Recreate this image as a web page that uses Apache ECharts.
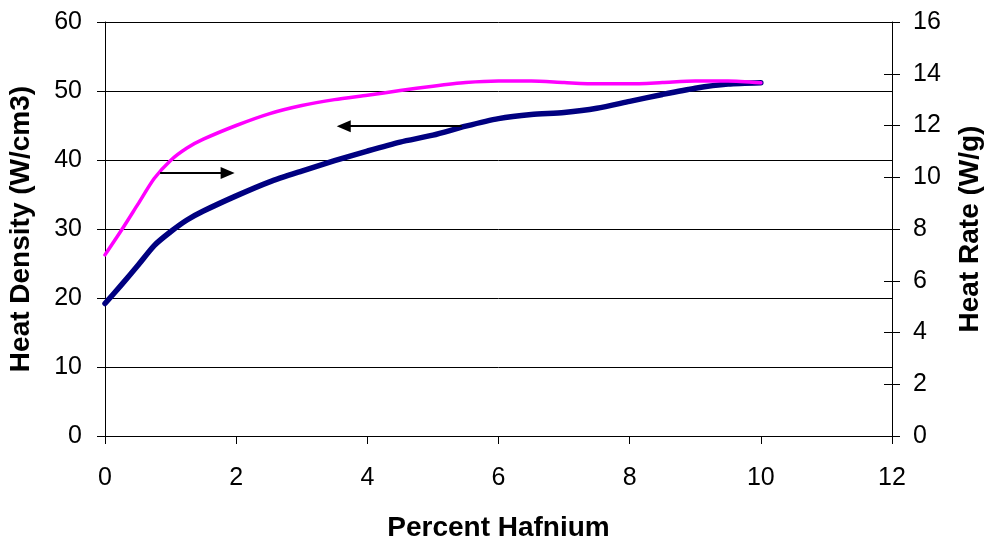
<!DOCTYPE html>
<html>
<head>
<meta charset="utf-8">
<title>Heat Density and Heat Rate vs Percent Hafnium</title>
<script src="https://cdn.jsdelivr.net/npm/echarts@6/dist/echarts.min.js"></script>
<style>
  html, body { margin: 0; padding: 0; background: #ffffff; }
  #chart { width: 989px; height: 542px; }
</style>
</head>
<body>
<div id="chart"></div>
<script>
// Percent hafnium sample points
const hafnium = [0, 0.25, 0.5, 0.75, 1, 1.25, 1.5, 2, 2.5, 3, 3.5, 4, 4.5, 5, 5.5, 6, 6.5, 7, 7.5, 8, 8.5, 9, 9.5, 10];
// Heat density (W/cm3), left axis
const heatDensity = [19.2, 21.9, 24.7, 27.6, 29.6, 31.3, 32.6, 34.8, 36.8, 38.4, 39.9, 41.3, 42.6, 43.6, 44.9, 46.0, 46.6, 46.9, 47.5, 48.5, 49.5, 50.4, 51.0, 51.2];
// Heat rate (W/g), right axis
const heatRate = [7.0, 7.95, 8.95, 9.95, 10.65, 11.13, 11.47, 12.0, 12.45, 12.77, 13.0, 13.17, 13.35, 13.52, 13.66, 13.72, 13.72, 13.66, 13.61, 13.61, 13.66, 13.72, 13.72, 13.65];

// Axis ranges
const xRange = { min: 0, max: 12, step: 2 };
const densityRange = { min: 0, max: 60, step: 10 };
const rateRange = { min: 0, max: 16, step: 2 };

// Arrows showing which axis each curve reads against
const rateArrow = [[0.84, 10.16], [1.87, 10.16]];
const densityArrow = [[5.44, 44.9], [3.64, 44.9]];

const FONT = '"Liberation Sans", Arial, sans-serif';
const INK = '#000000';
const PLOT = { left: 105, right: 97, top: 22, bottom: 106, containLabel: false, outerBoundsMode: 'none' };

const pairs = (xs, ys) => xs.map((x, i) => [x, ys[i]]);

function arrowLine(coords) {
  return {
    silent: true,
    animation: false,
    symbol: ['none', 'triangle'],
    symbolSize: [12, 14],
    label: { show: false },
    emphasis: { disabled: true },
    lineStyle: { color: INK, width: 2, type: 'solid' },
    itemStyle: { color: INK },
    data: [[{ coord: coords[0] }, { coord: coords[1] }]]
  };
}

const chart = echarts.init(document.getElementById('chart'), null, { renderer: 'canvas' });

chart.setOption({
  backgroundColor: '#ffffff',
  animation: false,
  // second grid overlays the first; it only carries the inward half of the right-hand ticks
  grid: [Object.assign({}, PLOT), Object.assign({}, PLOT)],
  xAxis: [
    {
      type: 'value',
      gridIndex: 0,
      min: xRange.min, max: xRange.max, interval: xRange.step,
      name: 'Percent Hafnium',
      nameLocation: 'middle',
      nameGap: 78,
      nameTextStyle: { fontFamily: FONT, fontSize: 28, fontWeight: 'bold', color: INK },
      axisLine: { show: true, onZero: false, lineStyle: { color: INK, width: 1 } },
      axisTick: { show: true, inside: false, length: 8, lineStyle: { color: INK } },
      axisLabel: { fontFamily: FONT, fontSize: 25, color: INK, margin: 30 },
      splitLine: { show: false }
    },
    {
      type: 'value',
      gridIndex: 1,
      min: xRange.min, max: xRange.max,
      show: false
    }
  ],
  yAxis: [
    {
      type: 'value',
      gridIndex: 0,
      position: 'left',
      min: densityRange.min, max: densityRange.max, interval: densityRange.step,
      name: 'Heat Density (W/cm3)',
      nameLocation: 'middle',
      nameRotate: 90,
      nameGap: 70,
      nameTextStyle: { fontFamily: FONT, fontSize: 28, fontWeight: 'bold', color: INK },
      axisLine: { show: true, onZero: false, lineStyle: { color: INK, width: 1 } },
      axisTick: { show: true, inside: false, length: 8, lineStyle: { color: INK } },
      axisLabel: { fontFamily: FONT, fontSize: 25, color: INK, margin: 23 },
      splitLine: { show: true, lineStyle: { color: INK, width: 1 } }
    },
    {
      type: 'value',
      gridIndex: 0,
      position: 'right',
      min: rateRange.min, max: rateRange.max, interval: rateRange.step,
      name: 'Heat Rate (W/g)',
      nameLocation: 'middle',
      nameRotate: 90,
      nameGap: 64,
      nameTextStyle: { fontFamily: FONT, fontSize: 28, fontWeight: 'bold', color: INK },
      axisLine: { show: true, onZero: false, lineStyle: { color: INK, width: 1 } },
      axisTick: { show: true, inside: false, length: 8, lineStyle: { color: INK } },
      axisLabel: { fontFamily: FONT, fontSize: 25, color: INK, margin: 21 },
      splitLine: { show: false }
    },
    {
      type: 'value',
      gridIndex: 1,
      position: 'right',
      min: rateRange.min, max: rateRange.max, interval: rateRange.step,
      axisLine: { show: false, onZero: false },
      axisTick: { show: true, inside: true, length: 8, lineStyle: { color: INK } },
      axisLabel: { show: false },
      splitLine: { show: false }
    }
  ],
  series: [
    {
      name: 'Heat Density',
      type: 'line',
      xAxisIndex: 0,
      yAxisIndex: 0,
      data: pairs(hafnium, heatDensity),
      smooth: 0.25,
      showSymbol: false,
      symbol: 'none',
      lineStyle: { color: '#000080', width: 5.5, cap: 'round', join: 'round' },
      itemStyle: { color: '#000080' },
      emphasis: { disabled: true },
      markLine: arrowLine(densityArrow),
      z: 2
    },
    {
      name: 'Heat Rate',
      type: 'line',
      xAxisIndex: 0,
      yAxisIndex: 1,
      data: pairs(hafnium, heatRate),
      smooth: 0.25,
      showSymbol: false,
      symbol: 'none',
      lineStyle: { color: '#FF00FF', width: 3.5, cap: 'round', join: 'round' },
      itemStyle: { color: '#FF00FF' },
      emphasis: { disabled: true },
      markLine: arrowLine(rateArrow),
      z: 3
    }
  ]
});
</script>
</body>
</html>
